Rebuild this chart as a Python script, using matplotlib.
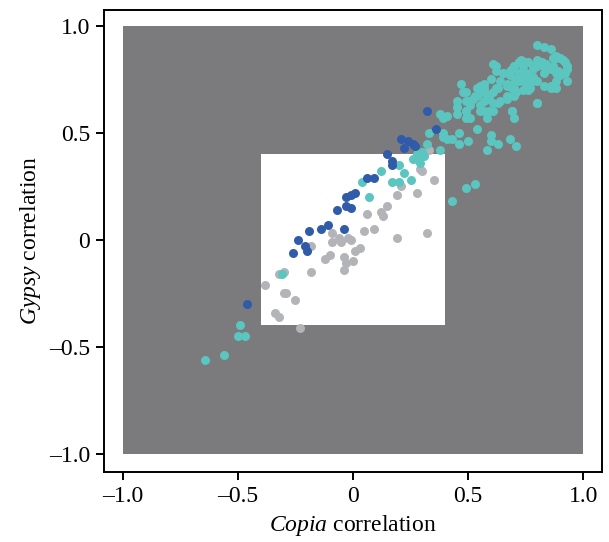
import numpy as np
import matplotlib
matplotlib.use("Agg")
import matplotlib.pyplot as plt
from matplotlib.patches import Rectangle

plt.rcParams['font.family'] = ['Liberation Serif', 'DejaVu Serif']
plt.rcParams['mathtext.fontset'] = 'custom'
plt.rcParams['mathtext.rm'] = 'Liberation Serif'
plt.rcParams['mathtext.it'] = 'Liberation Serif:italic'

# Copia / Gypsy correlations
blue_x = [-0.46, -0.26, -0.24, -0.21, -0.20, -0.19, -0.14, -0.11, -0.04, -0.07,
          -0.03, -0.01, -0.03, -0.01, 0.01, 0.06, 0.09, 0.15, 0.17, 0.17,
          0.22, 0.21, 0.24, 0.26, 0.27, 0.32, 0.36]
blue_y = [-0.30, -0.06, 0.00, -0.03, -0.05, 0.04, 0.05, 0.07, 0.05, 0.14,
          0.16, 0.15, 0.20, 0.21, 0.22, 0.29, 0.29, 0.40, 0.37, 0.35,
          0.43, 0.47, 0.46, 0.45, 0.44, 0.60, 0.52]

gray_x = [-0.38, -0.30, -0.32, -0.18, -0.30, -0.29, -0.25, -0.34, -0.32, -0.23,
          -0.18, -0.12, -0.10, -0.09, -0.09, -0.06, -0.05, -0.02, -0.01, -0.04,
          -0.04, -0.03, 0.00, 0.01, 0.03, 0.05, 0.09, 0.06, 0.12, 0.13,
          0.15, 0.19, 0.32, 0.19, 0.21, 0.28, 0.35, 0.29, 0.30, 0.33]
gray_y = [-0.21, -0.15, -0.16, -0.15, -0.25, -0.25, -0.28, -0.34, -0.36, -0.41,
          -0.03, -0.09, -0.07, 0.03, -0.01, 0.01, -0.01, 0.01, 0.00, -0.08,
          -0.14, -0.11, -0.10, -0.05, -0.04, 0.04, 0.05, 0.12, 0.13, 0.11,
          0.16, 0.01, 0.03, 0.21, 0.25, 0.22, 0.28, 0.33, 0.32, 0.42]

teal_x = [-0.64, -0.56, -0.50, -0.47, -0.49, -0.31, 0.04, 0.07, 0.12, 0.17,
          0.20, 0.22, 0.20, 0.25, 0.43, 0.49, 0.53,
          0.26, 0.28, 0.28, 0.30, 0.31, 0.29, 0.32, 0.33, 0.38,
          0.39, 0.41, 0.43, 0.46, 0.46, 0.50, 0.54, 0.39,
          0.60, 0.60, 0.63, 0.58, 0.68, 0.71,
          0.38, 0.39, 0.41, 0.45, 0.45, 0.49, 0.49, 0.51, 0.55, 0.58,
          0.61, 0.69, 0.70,
          0.80, 0.83, 0.86, 0.80, 0.88, 0.87, 0.90, 0.92, 0.93, 0.93,
          0.91, 0.88, 0.88, 0.86, 0.86, 0.80, 0.84, 0.82, 0.80, 0.78,
          0.75, 0.72, 0.70, 0.69, 0.68, 0.69, 0.75, 0.77, 0.78, 0.75,
          0.76, 0.72, 0.73, 0.72, 0.61, 0.62, 0.65, 0.64, 0.67, 0.69,
          0.71, 0.70, 0.67, 0.63, 0.55, 0.57, 0.58, 0.59, 0.61, 0.62,
          0.56, 0.54, 0.52, 0.50, 0.47, 0.49, 0.45, 0.45,
          0.88, 0.91, 0.93, 0.92, 0.90, 0.89, 0.87, 0.86, 0.83, 0.83,
          0.81, 0.80, 0.78, 0.76, 0.74, 0.73, 0.72, 0.70, 0.68, 0.65,
          0.62, 0.60, 0.57, 0.54, 0.53, 0.49, 0.48, 0.51, 0.49, 0.55,
          0.57, 0.59, 0.63, 0.67, 0.70, 0.71, 0.73, 0.75, 0.78, 0.80,
          0.83, 0.86, 0.88, 0.77, 0.74, 0.70, 0.67, 0.64, 0.61, 0.80,
          0.69, 0.59, 0.57]
teal_y = [-0.56, -0.54, -0.45, -0.45, -0.40, -0.16, 0.27, 0.20, 0.32, 0.27,
          0.35, 0.31, 0.27, 0.28, 0.18, 0.24, 0.26,
          0.38, 0.38, 0.40, 0.41, 0.39, 0.36, 0.45, 0.50, 0.42,
          0.48, 0.47, 0.47, 0.50, 0.45, 0.46, 0.52, 0.50,
          0.49, 0.46, 0.45, 0.42, 0.47, 0.44,
          0.59, 0.57, 0.58, 0.62, 0.59, 0.60, 0.57, 0.57, 0.60, 0.57,
          0.60, 0.60, 0.57,
          0.91, 0.90, 0.89, 0.84, 0.86, 0.85, 0.85, 0.83, 0.80, 0.74,
          0.78, 0.78, 0.74, 0.72, 0.71, 0.64, 0.82, 0.83, 0.81, 0.81,
          0.83, 0.83, 0.81, 0.80, 0.77, 0.73, 0.78, 0.76, 0.74, 0.73,
          0.70, 0.78, 0.76, 0.74, 0.82, 0.79, 0.78, 0.74, 0.73, 0.71,
          0.69, 0.67, 0.66, 0.64, 0.72, 0.71, 0.68, 0.66, 0.69, 0.71,
          0.69, 0.67, 0.66, 0.65, 0.73, 0.69, 0.65, 0.62,
          0.85, 0.84, 0.81, 0.78, 0.77, 0.79, 0.81, 0.80, 0.78, 0.81,
          0.83, 0.82, 0.80, 0.83, 0.81, 0.84, 0.83, 0.81, 0.79, 0.78,
          0.81, 0.75, 0.73, 0.71, 0.67, 0.65, 0.69, 0.63, 0.60, 0.63,
          0.65, 0.67, 0.71, 0.72, 0.71, 0.75, 0.76, 0.74, 0.76, 0.74,
          0.72, 0.72, 0.71, 0.71, 0.70, 0.68, 0.67, 0.65, 0.64, 0.64,
          0.60, 0.60, 0.60]

ticks = [-1.0, -0.5, 0.0, 0.5, 1.0]
tick_labels = ['\u20131.0', '\u20130.5', '0', '0.5', '1.0']

fig = plt.figure(figsize=(6.09, 5.42), dpi=100)
ax = fig.add_axes([0.171, 0.129, 0.817, 0.853])

ax.add_patch(Rectangle((-1, -1), 2, 2, facecolor='#7b7b7d', edgecolor='none', zorder=0))
ax.add_patch(Rectangle((-0.4, -0.4), 0.8, 0.8, facecolor='white', edgecolor='none', zorder=1))

ax.scatter(gray_x, gray_y, s=42, color='#b2b4b7', linewidths=0, zorder=2)
ax.scatter(teal_x, teal_y, s=42, color='#5bc5bf', linewidths=0, zorder=3)
ax.scatter(blue_x, blue_y, s=42, color='#2f5ba8', linewidths=0, zorder=4)

ax.set_xlim(-1.08, 1.08)
ax.set_ylim(-1.085, 1.075)
ax.set_xticks(ticks)
ax.set_xticklabels(tick_labels)
ax.set_yticks(ticks)
ax.set_yticklabels(tick_labels)
ax.tick_params(direction='out', length=6, width=1.4, labelsize=17, pad=4)
for sp in ax.spines.values():
    sp.set_linewidth(1.4)

ax.set_xlabel(r'$\mathit{Copia}$ correlation', fontsize=17, labelpad=4)
ax.set_ylabel(r'$\mathit{Gypsy}$ correlation', fontsize=17, labelpad=4)

fig.savefig('out.png', dpi=100)
